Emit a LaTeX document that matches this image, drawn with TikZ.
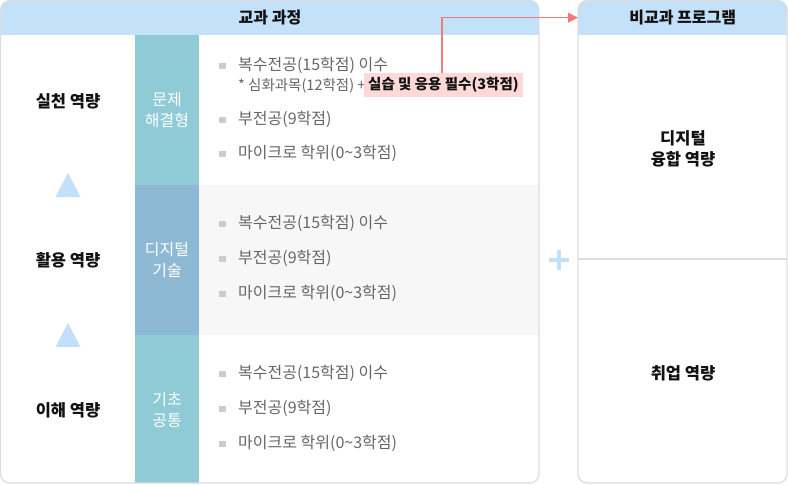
\documentclass[tikz,border=0pt]{standalone}
\usepackage{fontspec}
\setmainfont{Noto Sans CJK KR}
\usetikzlibrary{arrows.meta}
\definecolor{hdr}{HTML}{C4E1FA}
\definecolor{colA}{HTML}{8ECBD6}
\definecolor{colB}{HTML}{8EB9D5}
\definecolor{tri}{HTML}{C2E0FB}
\definecolor{bord}{HTML}{DDDDDD}
\definecolor{rowbg}{HTML}{F7F7F7}
\definecolor{bulgray}{HTML}{CCCCCC}
\definecolor{txtgray}{HTML}{666666}
\definecolor{pinkhl}{HTML}{FFD8D8}
\definecolor{arrred}{HTML}{F27A7A}
\definecolor{dark}{HTML}{111111}
\begin{document}
\begin{tikzpicture}[x=1pt,y=-1pt,
  box/.style={draw=bord, line width=1.2pt, rounded corners=9},
  hdrtxt/.style={font=\bfseries\fontsize{16}{19}\selectfont, text=dark, inner sep=0},
  lab/.style={font=\bfseries\fontsize{16.5}{21}\selectfont, text=dark, align=center, inner sep=0},
  mid/.style={font=\fontsize{16}{21}\selectfont, text=white, align=center, inner sep=0},
  item/.style={font=\fontsize{16}{18}\selectfont, text=txtgray, inner sep=0, anchor=west},
  note/.style={font=\fontsize{14.5}{16}\selectfont, text=txtgray, inner sep=0, anchor=west},
  hl/.style={font=\bfseries\fontsize{14.5}{16}\selectfont, text=dark, fill=pinkhl, inner xsep=4pt, inner ysep=0pt, minimum height=24pt, anchor=west},
  bul/.style={fill=bulgray, minimum size=6.5pt, inner sep=0},
  arr/.style={draw=arrred, line width=1.2pt, -{Triangle[length=10pt,width=10pt]}}
]
\useasboundingbox (0,0) rectangle (788,485);

% left box fills
\begin{scope}
  \clip[rounded corners=9] (0.6,0.6) rectangle (539,483);
  \fill[white] (0,0) rectangle (539,484);
  \fill[hdr] (0,0) rectangle (539,35);
  \fill[rowbg] (199,185) rectangle (539,335);
  \fill[colA] (135,35) rectangle (199,185);
  \fill[colB] (135,185) rectangle (199,335);
  \fill[colA] (135,335) rectangle (199,484);
\end{scope}
% right box fills
\begin{scope}
  \clip[rounded corners=9] (578,0.6) rectangle (787,483);
  \fill[hdr] (578,0) rectangle (788,35);
\end{scope}
\draw[box] (0.6,0.6) rectangle (539,483);
\draw[box] (578,0.6) rectangle (787,483);
\draw[draw=bord, line width=1.2pt] (578,259) -- (787,259);

% headers
\node[hdrtxt] (lhead) at (270,18) {교과 과정};
\node[hdrtxt, minimum width=209pt, minimum height=35pt, anchor=north west] (rhead) at (578,0) {비교과 프로그램};

% left labels
\node[lab] (c1) at (68,101) {실천 역량};
\node[lab] (c2) at (68,260) {활용 역량};
\node[lab] (c3) at (68,410) {이해 역량};
\fill[tri] (68,173) -- (80.5,197) -- (55.5,197) -- cycle;
\fill[tri] (68,323) -- (80.5,347) -- (55.5,347) -- cycle;

% middle labels
\node[mid] (m1) at (167,110) {문제\\해결형};
\node[mid] (m2) at (167,260) {디지털\\기술};
\node[mid] (m3) at (167,410) {기초\\공통};

% row 1 items
\node[bul] (b11) at (222.5,66) {};
\node[item] (t11) at (238,65) {복수전공(15학점) 이수};
\node[note] (t1n) at (238,86) {* 심화과목(12학점) +};
\node[hl] (hl) at (364,85) {실습 및 응용 필수(3학점)};
\node[bul] (b12) at (222.5,120) {};
\node[item] (t12) at (238,119) {부전공(9학점)};
\node[bul] (b13) at (222.5,154) {};
\node[item] (t13) at (238,153) {마이크로 학위(0\textasciitilde3학점)};

% row 2 items
\node[bul] (b21) at (222.5,224) {};
\node[item] (t21) at (238,223) {복수전공(15학점) 이수};
\node[bul] (b22) at (222.5,259) {};
\node[item] (t22) at (238,258) {부전공(9학점)};
\node[bul] (b23) at (222.5,294) {};
\node[item] (t23) at (238,293) {마이크로 학위(0\textasciitilde3학점)};

% row 3 items
\node[bul] (b31) at (222.5,374) {};
\node[item] (t31) at (238,373) {복수전공(15학점) 이수};
\node[bul] (b32) at (222.5,409) {};
\node[item] (t32) at (238,408) {부전공(9학점)};
\node[bul] (b33) at (222.5,444) {};
\node[item] (t33) at (238,443) {마이크로 학위(0\textasciitilde3학점)};

% plus
\fill[tri] (549,258) rectangle (569,262);
\fill[tri] (557,250) rectangle (561,270);

% right labels
\node[lab] (r1) at (683,149) {디지털\\융합 역량};
\node[lab] (r2) at (683,373) {취업 역량};

% arrow
\coordinate (ax) at (442,0);
\draw[arr] (hl.north -| ax) |- (rhead.west);
\end{tikzpicture}
\end{document}
